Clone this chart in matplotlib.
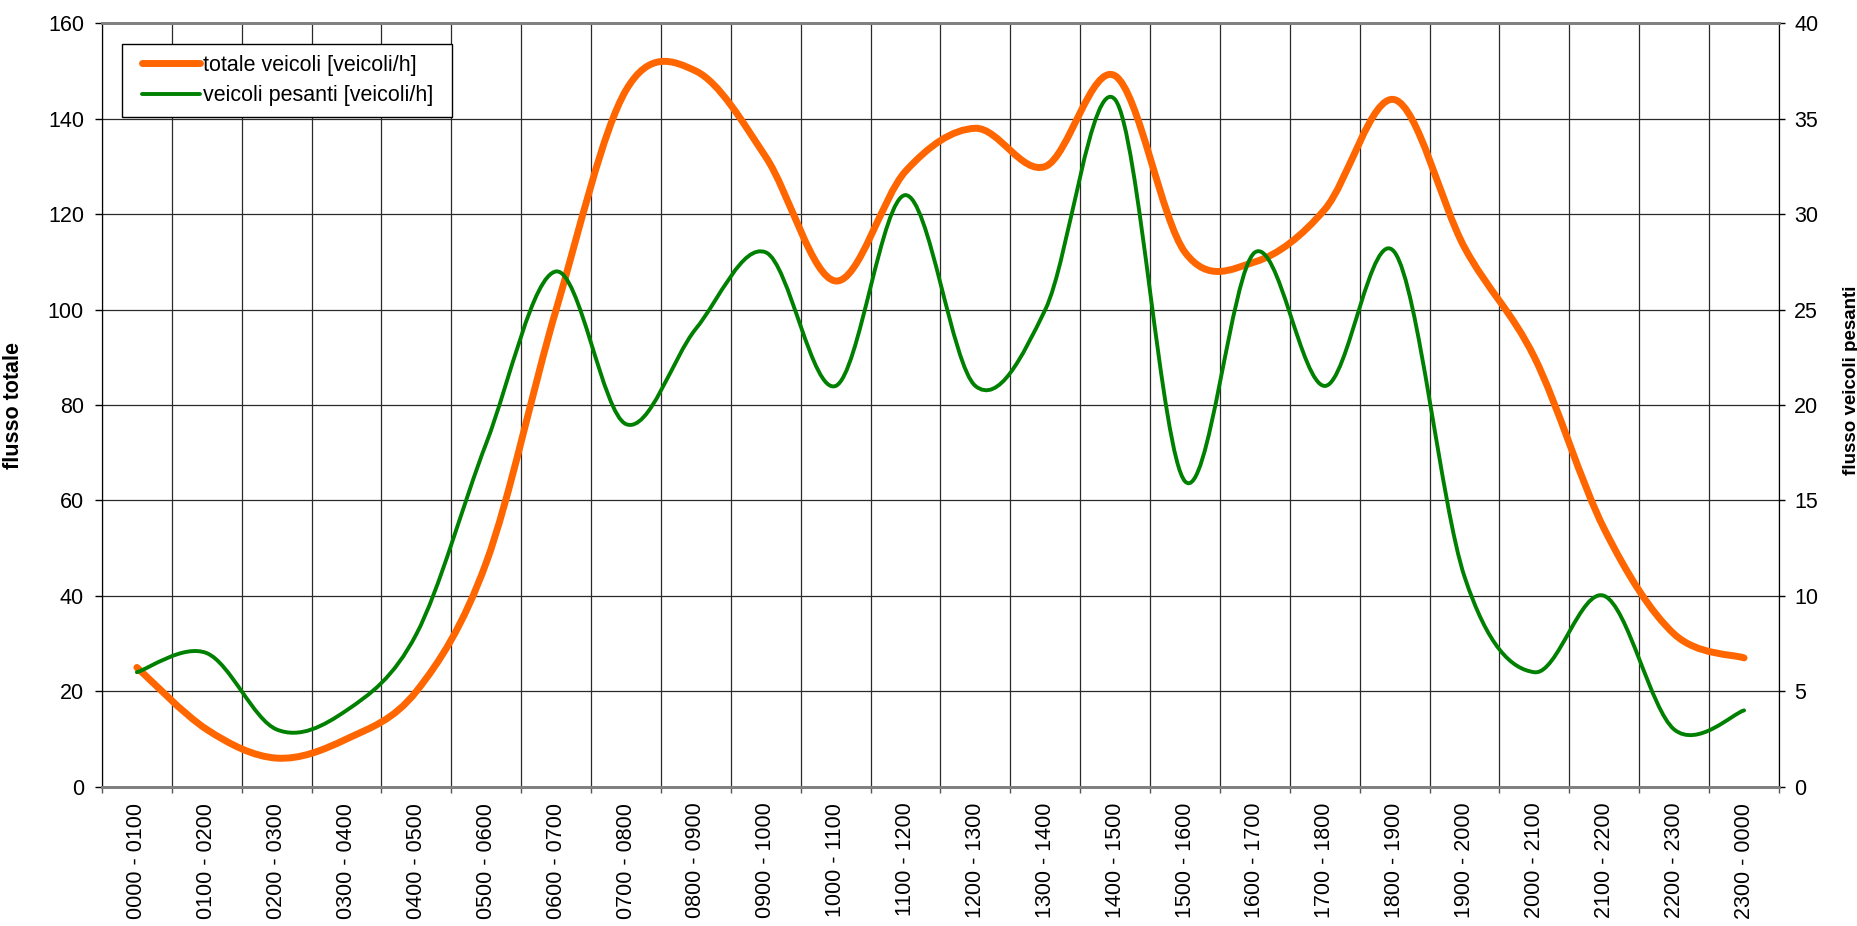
import matplotlib
matplotlib.use("Agg")
import matplotlib.pyplot as plt
from matplotlib.path import Path
from matplotlib.patches import PathPatch
from matplotlib.lines import Line2D
from matplotlib.legend_handler import HandlerLine2D

plt.rcParams['font.family'] = ['Liberation Sans', 'DejaVu Sans']

fasce = ['0000 - 0100', '0100 - 0200', '0200 - 0300', '0300 - 0400',
         '0400 - 0500', '0500 - 0600', '0600 - 0700', '0700 - 0800',
         '0800 - 0900', '0900 - 1000', '1000 - 1100', '1100 - 1200',
         '1200 - 1300', '1300 - 1400', '1400 - 1500', '1500 - 1600',
         '1600 - 1700', '1700 - 1800', '1800 - 1900', '1900 - 2000',
         '2000 - 2100', '2100 - 2200', '2200 - 2300', '2300 - 0000']

# veicoli/h
totale = [25, 12, 6, 10, 20, 47, 100, 146, 150, 132, 106, 129,
          138, 130, 149, 112, 110, 121, 144, 113, 90, 54, 32, 27]
pesanti = [6, 7, 3, 4, 8, 18, 27, 19, 24, 28, 21, 31,
           21, 25, 36, 16, 28, 21, 28, 11, 6, 10, 3, 4]

ORANGE = '#FF6600'
GREEN = '#008000'
FS = 15.5


def smooth_path(xs, ys):
    # curva smussata tipo Excel (bezier con punti di controllo dai vicini)
    n = len(xs)
    verts = [(xs[0], ys[0])]
    codes = [Path.MOVETO]
    for i in range(n - 1):
        a = max(i - 1, 0)
        b = min(i + 2, n - 1)
        c1 = (xs[i] + (xs[i + 1] - xs[a]) / 6.0, ys[i] + (ys[i + 1] - ys[a]) / 6.0)
        c2 = (xs[i + 1] - (xs[b] - xs[i]) / 6.0, ys[i + 1] - (ys[b] - ys[i]) / 6.0)
        verts += [c1, c2, (xs[i + 1], ys[i + 1])]
        codes += [Path.CURVE4] * 3
    return Path(verts, codes)


xs = [i + 0.5 for i in range(len(fasce))]

fig = plt.figure(figsize=(18.57, 9.26), dpi=100)
ax = fig.add_axes([0.0549, 0.1504, 0.9031, 0.8244])
ax2 = ax.twinx()

ax.set_xlim(0, len(fasce))
ax.set_ylim(0, 160)
ax2.set_ylim(0, 40)

ax.add_patch(PathPatch(smooth_path(xs, totale), fill=False, edgecolor=ORANGE,
                       lw=5, capstyle='round', joinstyle='round'))
ax2.add_patch(PathPatch(smooth_path(xs, pesanti), fill=False, edgecolor=GREEN,
                        lw=2.8, capstyle='round', joinstyle='round'))

ax.set_xticks(range(len(fasce) + 1))
ax.set_xticklabels([])
ax.set_xticks(xs, minor=True)
ax.set_xticklabels(fasce, minor=True, rotation=90, fontsize=FS)
ax.tick_params(axis='x', which='major', direction='out', length=4.5, width=1, color='#555555')
ax.tick_params(axis='x', which='minor', length=0, pad=11.5)

ax.set_yticks(range(0, 161, 20))
ax.tick_params(axis='y', direction='out', length=5, width=1, labelsize=FS, pad=8)
ax2.set_yticks(range(0, 41, 5))
ax2.tick_params(axis='y', direction='out', length=4.5, width=1, labelsize=FS, pad=6.5)

ax.grid(True, which='major', color='#2a2a2a', lw=0.9)
ax.set_axisbelow(True)

ax.set_ylabel('flusso totale', fontsize=15.5, fontweight='bold')
ax.yaxis.set_label_coords(-0.0467, 0.5)
ax2.set_ylabel('flusso veicoli pesanti', fontsize=13.5, fontweight='bold')
ax2.yaxis.set_label_coords(1.0382, 0.533)

for a in (ax, ax2):
    a.spines['top'].set_color('#808080')
    a.spines['top'].set_linewidth(2)
    a.spines['bottom'].set_color('#808080')
    a.spines['bottom'].set_linewidth(2)
    a.spines['left'].set_color('black')
    a.spines['right'].set_color('black')

handles = [Line2D([], [], color=ORANGE, lw=5, solid_capstyle='round'),
           Line2D([], [], color=GREEN, lw=2.8, solid_capstyle='round')]
leg = ax2.legend(handles, ['totale veicoli [veicoli/h]', 'veicoli pesanti [veicoli/h]'],
                 loc='upper left', bbox_to_anchor=(0.012, 0.8752, 0.1968, 0.0977),
                 mode='expand', borderaxespad=0, fontsize=FS, handlelength=3.13,
                 handletextpad=0.12, labelspacing=0.43, borderpad=0.5,
                 fancybox=False, framealpha=1, edgecolor='black',
                 handler_map={Line2D: HandlerLine2D(xpad=0.43)})
leg.get_frame().set_linewidth(1)

fig.savefig('out.png', dpi=100)
